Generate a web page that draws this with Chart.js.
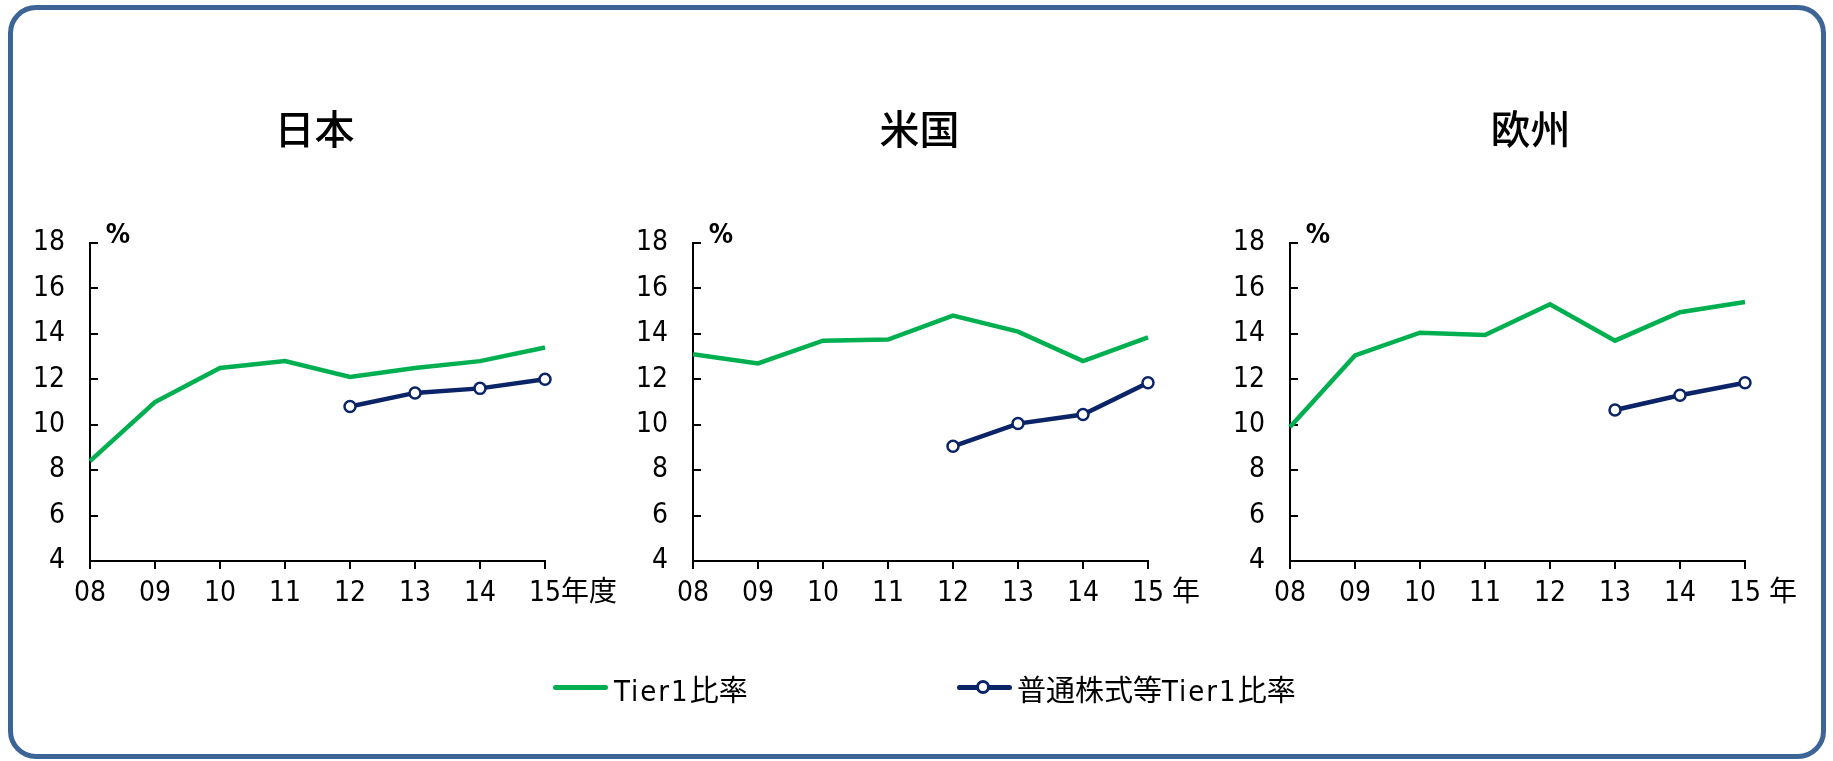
<!DOCTYPE html>
<html lang="ja">
<head>
<meta charset="utf-8">
<title>Tier1比率の推移</title>
<script src="https://cdn.jsdelivr.net/npm/chart.js@4.4.1/dist/chart.umd.min.js"></script>
<style>
  html, body { margin: 0; padding: 0; background: #fff; }
  #frame { position: relative; width: 1833px; height: 761px; overflow: hidden; }
  #border {
    position: absolute; left: 8px; top: 5px; width: 1818px; height: 754px;
    box-sizing: border-box; border: 5px solid #3d6496; border-radius: 28px;
  }
  canvas.panel { position: absolute; top: 0; }
  .key { position: absolute; z-index: 2; }
  .line { height: 5px; border-radius: 3px; }
  .dot {
    width: 14px; height: 14px; box-sizing: border-box; border-radius: 50%;
    border: 3px solid #0b2467; background: #fff;
  }
  .label {
    font-family: "Noto Sans CJK JP", sans-serif; font-size: 29px; line-height: 30px;
    color: #000; white-space: nowrap;
  }
  .label .lat { font-family: "Liberation Sans Narrow", "DejaVu Sans Condensed", sans-serif; letter-spacing: 2px; }
</style>
</head>
<body>
<div id="frame">
  <div id="border"></div>
  <canvas class="panel" id="jp" width="620" height="761" style="left:0px"></canvas>
  <canvas class="panel" id="us" width="620" height="761" style="left:603px"></canvas>
  <canvas class="panel" id="eu" width="620" height="761" style="left:1200px"></canvas>

  <div class="key line" style="left:553px; top:685px; width:55px; background:#00b050;"></div>
  <div class="key label" style="left:614px; top:673px;"><span class="lat">Tier1</span>比率</div>

  <div class="key line" style="left:957px; top:685px; width:55px; background:#0b2467;"></div>
  <div class="key dot" style="left:976px; top:680px;"></div>
  <div class="key label" style="left:1017px; top:673px;">普通株式等<span class="lat">Tier1</span>比率</div>
</div>
<script>
// fiscal / calendar years on the x axis
const years = ['08', '09', '10', '11', '12', '13', '14', '15'];
const seriesNames = ['Tier1比率', '普通株式等Tier1比率'];

// Japan (fiscal year)
const jpTier1 = [8.4, 11.0, 12.5, 12.8, 12.1, 12.5, 12.8, 13.4];
const jpCet1 = [null, null, null, null, 10.8, 11.4, 11.6, 12.0];
// United States
const usTier1 = [13.1, 12.7, 13.7, 13.75, 14.8, 14.1, 12.8, 13.85];
const usCet1 = [null, null, null, null, 9.05, 10.05, 10.45, 11.85];
// Europe
const euTier1 = [9.9, 13.05, 14.05, 13.95, 15.3, 13.7, 14.95, 15.4];
const euCet1 = [null, null, null, null, null, 10.65, 11.3, 11.85];

const yMin = 4, yMax = 18, yStep = 2;

const GREEN = '#00b050';
const NAVY = '#0b2467';
const TICK_FONT = '"Liberation Sans Narrow", "DejaVu Sans Condensed", "Noto Sans CJK JP", sans-serif';
const CJK_FONT = '"Noto Sans CJK JP", sans-serif';

const panels = [
  { id: 'jp', title: '日本', unit: '年度', tier1: jpTier1, cet1: jpCet1, titleShift: -3 },
  { id: 'us', title: '米国', unit: ' 年', tier1: usTier1, cet1: usCet1, titleShift: -1 },
  { id: 'eu', title: '欧州', unit: ' 年', tier1: euTier1, cet1: euCet1, titleShift: 13 }
];

// panel title, "%" above the value axis and the unit after the last year
const panelNotes = {
  id: 'panelNotes',
  afterDraw(chart, args, opts) {
    const { ctx, chartArea, scales } = chart;
    const xs = scales.x;
    ctx.save();
    ctx.fillStyle = '#000';

    ctx.font = '500 40px ' + CJK_FONT;
    ctx.textAlign = 'center';
    ctx.textBaseline = 'middle';
    ctx.fillText(opts.title, (chartArea.left + chartArea.right) / 2 + opts.titleShift, 129);

    ctx.font = 'bold 27px ' + TICK_FONT;
    ctx.fillText('%', chartArea.left + 28, chartArea.top - 7);

    ctx.font = '28px ' + TICK_FONT;
    const last = years[years.length - 1];
    const x = xs.getPixelForValue(years.length - 1) + ctx.measureText(last).width / 2;
    ctx.textAlign = 'left';
    ctx.fillText(opts.unit, x, xs.top + 33);
    ctx.restore();
  }
};

panels.forEach(p => {
  new Chart(document.getElementById(p.id), {
    type: 'line',
    data: {
      labels: years,
      datasets: [
        {
          label: seriesNames[0],
          data: p.tier1,
          borderColor: GREEN,
          borderWidth: 4.5,
          pointRadius: 0,
          tension: 0
        },
        {
          label: seriesNames[1],
          data: p.cet1,
          borderColor: NAVY,
          borderWidth: 4.5,
          pointRadius: 5.5,
          pointBorderWidth: 2.5,
          pointBackgroundColor: '#fff',
          pointBorderColor: NAVY,
          tension: 0
        }
      ]
    },
    options: {
      responsive: false,
      animation: false,
      events: [],
      layout: { padding: { top: 243, right: 75, bottom: 0, left: 0 } },
      plugins: {
        legend: { display: false },
        tooltip: { enabled: false },
        panelNotes: { title: p.title, unit: p.unit, titleShift: p.titleShift }
      },
      scales: {
        x: {
          offset: false,
          grid: { drawOnChartArea: false, color: '#000', lineWidth: 2, tickLength: 8 },
          border: { color: '#000', width: 2 },
          ticks: {
            color: '#000', padding: 8, maxRotation: 0, autoSkip: false,
            font: { family: TICK_FONT, size: 28 }
          },
          afterFit(scale) { scale.height = 200; }
        },
        y: {
          min: yMin,
          max: yMax,
          grid: { drawOnChartArea: false, color: '#000', lineWidth: 2, tickLength: -8 },
          border: { color: '#000', width: 2 },
          ticks: {
            stepSize: yStep, color: '#000', padding: 33,
            font: { family: TICK_FONT, size: 28 }
          },
          afterFit(scale) { scale.width = 90; }
        }
      }
    },
    plugins: [panelNotes]
  });
});
</script>
</body>
</html>
